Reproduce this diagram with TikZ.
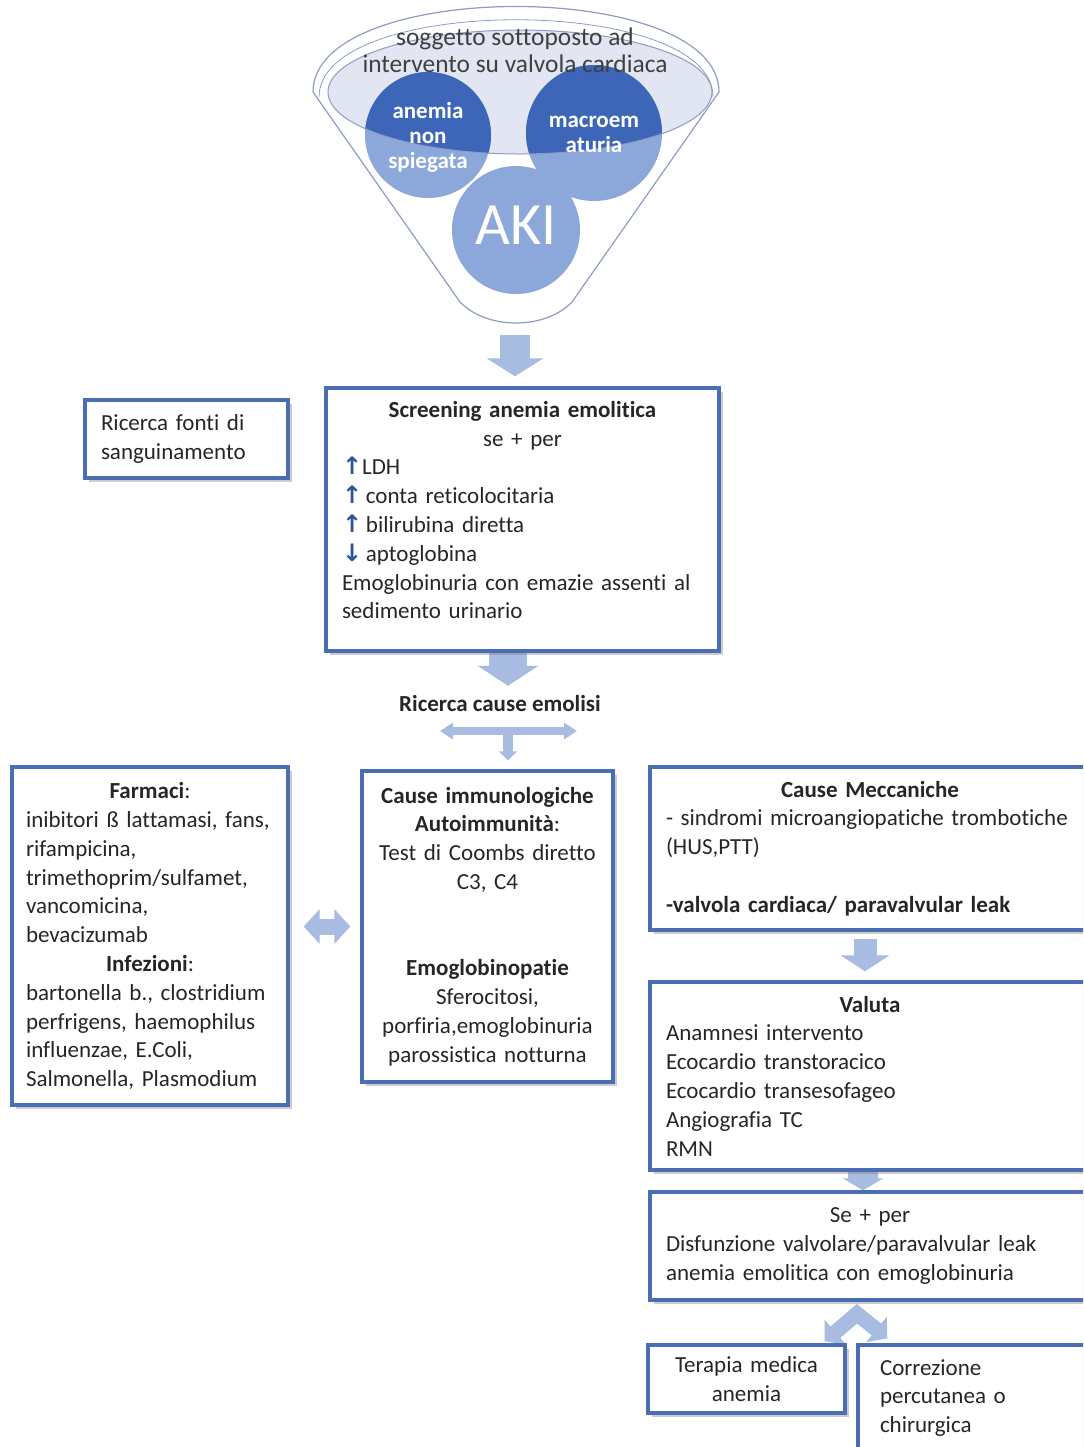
\documentclass[tikz,border=0pt]{standalone}
\usepackage{fontspec}
\setmainfont{Carlito}[Ligatures=NoCommon]
\newfontfamily\arrowfont{DejaVu Sans}
\usetikzlibrary{arrows.meta,shadows}
\definecolor{boxblue}{HTML}{4A6DB4}
\definecolor{fatblue}{HTML}{A8BBE1}
\definecolor{rimgray}{HTML}{8E9CC2}
\definecolor{bowlfill}{HTML}{E1E6F2}
\definecolor{balldark}{HTML}{3D66B8}
\definecolor{balllight}{HTML}{8CA7DA}
\definecolor{upblue}{HTML}{2F5597}
\definecolor{toptext}{HTML}{404040}
\pgfdeclarelayer{background}
\pgfsetlayers{background,main}
\newcommand{\ctr}[1]{\noindent\hfill#1\hfill\null}
\newcommand{\up}{{\color{upblue}\arrowfont\bfseries\fontsize{12}{12}\selectfont ↑}}
\newcommand{\dn}{{\color{upblue}\arrowfont\bfseries\fontsize{12}{12}\selectfont ↓}}
\tikzset{box/.style={draw=boxblue, line width=1.7pt, fill=white,
    align=left, inner xsep=8pt, inner ysep=3pt, text=black!85,
    drop shadow={shadow xshift=2.2pt, shadow yshift=-2.2pt, opacity=.4},
    font=\fontsize{11.5}{14.4}\selectfont},
  fat/.style={draw=fatblue, line width=#1},
  ball/.style={text=white, align=center, font=\bfseries\fontsize{11.5}{12.5}\selectfont},
  }

\begin{document}
\begin{tikzpicture}[x=0.5pt, y=-0.5pt]
\useasboundingbox (0,0) rectangle (1083,1447);
\begin{pgfonlayer}{background}
\fill[white] (0,0) rectangle (1083,1447);
\end{pgfonlayer}
\clip (0,0) rectangle (1083,1447);
% funnel
\draw[rimgray, line width=.6pt, fill=white] (313,92) .. controls (313,-22) and (719,-22) .. (719,92)
  -- (572,302) .. controls (545,330) and (487,330) .. (460,302) -- cycle;
\draw[rimgray, line width=.4pt] (319,97) .. controls (319,-6) and (713,-6) .. (713,97);
\fill[bowlfill] (520,92) ellipse [x radius=192, y radius=62];
\fill[balllight] (428,135) circle [radius=63];
\fill[balllight] (594,133) circle [radius=68];
\begin{scope}
\clip (520,92) ellipse [x radius=192, y radius=62];
\fill[balldark] (428,135) circle [radius=63];
\fill[balldark] (594,133) circle [radius=68];
\end{scope}
\draw[rimgray, line width=.5pt] (520,92) ellipse [x radius=192, y radius=62];
\fill[balllight] (516,230) circle [radius=64];
\node[text=toptext, align=center, font=\fontsize{12.7}{13.5}\selectfont] (soggetto) at (515,50.5)
  {soggetto sottoposto ad\\intervento su valvola cardiaca};
\node[ball] (anemia) at (428,137) {anemia\\non\\spiegata};
\node[ball] (macro) at (594,134.5) {macroem\\aturia};
\node[text=white, font=\fontsize{30}{30}\selectfont] (aki) at (516,225) {AKI};
\coordinate (funbot) at (515,335);
% boxes
\node[box, text width=85.5pt, minimum height=39pt] (fonti) at (186.5,439)
  {Ricerca fonti di\\sanguinamento};
\node[box, text width=180.5pt, minimum height=131.5pt] (screen) at (522.5,519.5)
  {\ctr{\textbf{Screening anemia emolitica}}\\ \ctr{se + per}\\
   \up LDH\\ \up\,conta reticolocitaria\\ \up\,bilirubina diretta\\ \dn\,aptoglobina\\
   Emoglobinuria con emazie assenti al\\ sedimento urinario\\[-5pt]\mbox{}};
\node[font=\bfseries\fontsize{11.5}{14.4}\selectfont, text=black!85] (cause) at (500,704) {Ricerca cause emolisi};
\node[box, inner xsep=7pt, text width=124pt, minimum height=169pt] (farmaci) at (150,936)
  {\ctr{\textbf{Farmaci}:}\\ inibitori ß lattamasi, fans,\\ rifampicina,\\ trimethoprim/sulfamet,\\
   vancomicina,\\ bevacizumab\\ \ctr{\textbf{Infezioni}:}\\ bartonella b., clostridium\\
   perfrigens, haemophilus\\ influenzae, E.Coli,\\ Salmonella, Plasmodium};
\node[box, align=center, text width=109.5pt, minimum height=155.5pt] (immuno) at (487.5,926.5)
  {\textbf{Cause immunologiche}\\ \textbf{Autoimmunità}:\\ Test di Coombs diretto\\ C3, C4\\ ~\\ ~\\
   \textbf{Emoglobinopatie}\\ Sferocitosi,\\ porfiria,emoglobinuria\\ parossistica notturna};
\node[box, text width=204pt, minimum height=81.5pt] (mecc) at (870,848.5)
  {\ctr{\textbf{Cause Meccaniche}}\\ - sindromi microangiopatiche trombotiche\\ (HUS,PTT)\\ ~\\
   \textbf{-valvola cardiaca/ paravalvular leak}};
\node[box, text width=204pt, minimum height=94pt] (valuta) at (870,1076)
  {\ctr{\textbf{Valuta}}\\ Anamnesi intervento\\ Ecocardio transtoracico\\ Ecocardio transesofageo\\
   Angiografia TC\\ RMN};
\node[box, text width=204pt, minimum height=54pt] (seper) at (870,1246)
  {\ctr{Se + per}\\ Disfunzione valvolare/paravalvular leak\\ anemia emolitica con emoglobinuria};
\node[box, align=center, text width=82.5pt, minimum height=34pt] (terapia) at (746.5,1379)
  {Terapia medica\\ anemia};
\node[box, inner xsep=11pt, text width=94pt, minimum height=53pt] (correz) at (974,1398)
  {Correzione\\ percutanea o\\ chirurgica};
% fat arrows
\begin{pgfonlayer}{background}
\coordinate (split) at (508,731);
\coordinate (tl) at (440,731);
\coordinate (tr) at (577,731);
\draw[fat=15pt, -{Triangle[length=9pt,width=28pt]}, shorten >=5pt] (funbot) -- (funbot |- screen.north);
\draw[fat=19pt, -{Triangle[length=10pt,width=30pt]}, shorten >=1.5pt] (split |- screen.south) -- (split |- cause.north);
\draw[fat=4pt, {Triangle[length=6.5pt,width=8pt]}-{Triangle[length=6.5pt,width=8pt]}] (tl) -- (tr);
\draw[fat=5pt, -{Triangle[length=4.5pt,width=9pt]}, shorten >=4.5pt] (split) -- (split |- immuno.north);
\draw[fat=8pt, {Triangle[length=8pt,width=17pt]}-{Triangle[length=8pt,width=17pt]}, shorten <=7pt, shorten >=5pt]
  (immuno.west -| farmaci.east) -- (immuno.west);
\draw[fat=11.5pt, -{Triangle[length=8pt,width=24pt]}, shorten <=3.5pt, shorten >=4.5pt]
  ([xshift=-2.5pt]mecc.south) -- ([xshift=-2.5pt]valuta.north);
\draw[fat=15pt, -{Triangle[length=6pt,width=20pt]}] ([xshift=-3.5pt]valuta.south) -- ([xshift=-3.5pt]seper.north);
\draw[fat=7.5pt, line join=miter, {Triangle[length=7pt,width=16pt]}-{Triangle[length=7pt,width=16pt]}]
  ([xshift=-11pt,yshift=1pt]terapia.north east) -- ([xshift=-6.5pt,yshift=-6pt]seper.south)
  -- ([xshift=15.5pt,yshift=2.5pt]correz.north west);
\end{pgfonlayer}
\end{tikzpicture}
\end{document}
